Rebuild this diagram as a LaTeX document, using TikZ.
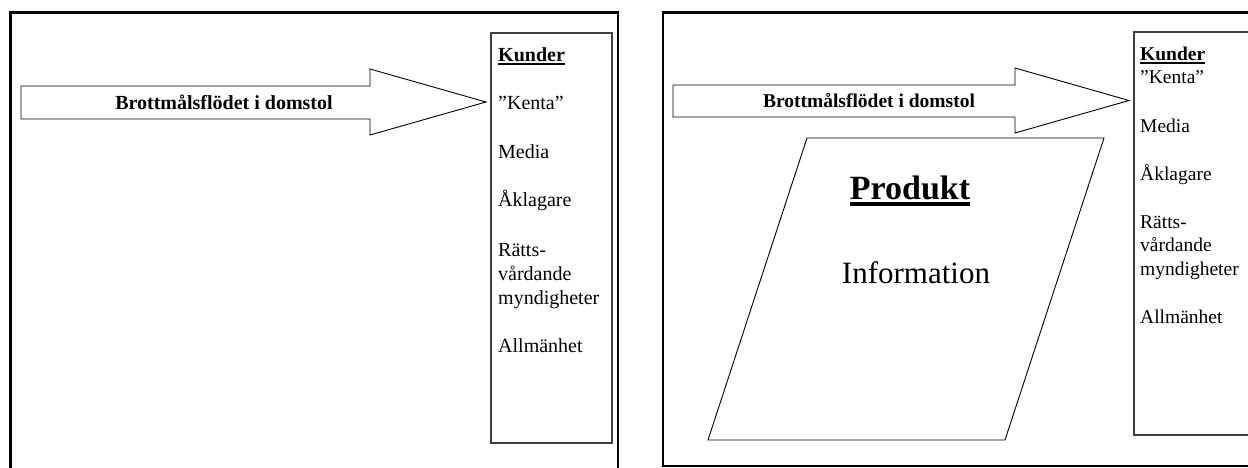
\documentclass[tikz,border=0pt]{standalone}
\usepackage{fontspec}
\setmainfont{Liberation Serif}
\newcommand{\ulin}[3]{\vtop{\hbox{#3}\kern#1\hrule height #2}}
\tikzset{%
  panel/.style={
    draw=black,
    line width=2.6pt,
    line join=miter
  },
  kundbox/.style={
    draw=black!75,
    line width=1.2pt
  },
  block arrow/.style={
    draw,
    line width=0.9pt,
    line join=miter
  },
  flow label/.style={
    inner sep=0pt,
    font=\bfseries
  },
  list item/.style={
    anchor=base west,
    inner sep=0pt
  },
}

\begin{document}
\begin{tikzpicture}[x=1pt, y=-1pt]
\useasboundingbox (0,0) rectangle (1248,468);
\clip (0,0) rectangle (1248,468);

% left panel
\draw [panel] (10.5,475) -- (10.5,12.5) -- (618,12.5) -- (618,475);
\draw [kundbox] (491,33) rectangle (612,443);
\draw [block arrow] (21,86) -- (370,86) -- (370,69) -- (486,102)
  -- (370,135) -- (370,119) -- (21,119) -- cycle;
\node [flow label, font=\fontsize{20}{24}\selectfont\bfseries] (flow-left) at (224,102)
  {Brottmålsflödet i domstol};

\foreach \t/\y [count=\i] in {{\ulin{0.5pt}{2pt}{\bfseries Kunder}}/62, ''Kenta''/110,
    Media/159, Åklagare/207, Rätts-/256, vårdande/280, myndigheter/304, Allmänhet/352}
  \node [list item, font=\fontsize{20}{24}\selectfont] (left-\i) at (498,\y) {\t};

% right panel
\draw [panel] (1255,466) -- (663,466) -- (663,12.5) -- (1255,12.5);
\draw [kundbox] (1255,32) -- (1134,32) -- (1134,435) -- (1255,435);
\draw [block arrow] (673,85) -- (1015,85) -- (1015,68) -- (1129,100.5)
  -- (1015,133) -- (1015,117) -- (673,117) -- cycle;
\node [flow label, font=\fontsize{19.5}{23}\selectfont\bfseries] (flow-right) at (869,101)
  {Brottmålsflödet i domstol};

\draw [block arrow] (807,138) -- (1104,138) -- (1005,440) -- (708,440) -- cycle;
\node [anchor=base, inner sep=0pt, font=\fontsize{34}{40}\selectfont\bfseries] (produkt)
  at (910,199) {\ulin{2.5pt}{4pt}{Produkt}};
\node [anchor=base, inner sep=0pt, font=\fontsize{31}{36}\selectfont] (information)
  at (916,283) {Information};

\foreach \t/\y [count=\i] in {{\ulin{0.5pt}{2pt}{\bfseries Kunder}}/61, ''Kenta''/84,
    Media/133, Åklagare/181, Rätts-/228, vårdande/251, myndigheter/275, Allmänhet/323}
  \node [list item, font=\fontsize{19.5}{23}\selectfont] (right-\i) at (1140,\y) {\t};
\end{tikzpicture}
\end{document}
